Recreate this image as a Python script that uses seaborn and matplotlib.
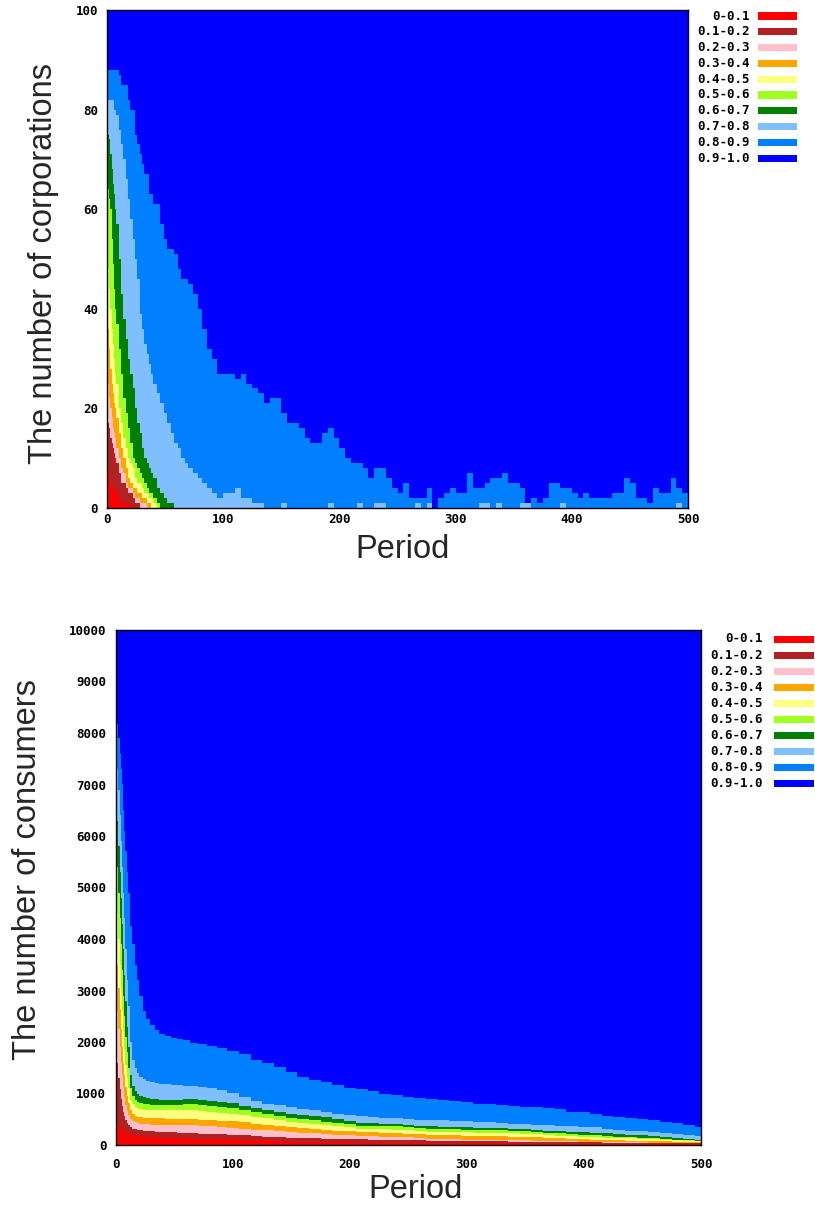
import numpy as np
import pandas as pd
import matplotlib
matplotlib.use("Agg")
import matplotlib.pyplot as plt
from matplotlib.patches import Rectangle
from matplotlib.font_manager import FontProperties
import seaborn as sns

W, H = 815, 1211

# ---------------- legend classes ----------------
class_labels = ["0-0.1", "0.1-0.2", "0.2-0.3", "0.3-0.4", "0.4-0.5",
                "0.5-0.6", "0.6-0.7", "0.7-0.8", "0.8-0.9", "0.9-1.0"]
class_colors = ["#ff0000", "#b22222", "#ffc0cb", "#ffa500", "#ffff80",
                "#a0ff20", "#008000", "#80bfff", "#0080ff", "#0000ff"]

# ---------------- top chart: corporations (cumulative counts up to each class) -------------
corp_total = 100
corp_xticks = [0, 100, 200, 300, 400, 500]
corp_yticks = [0, 20, 40, 60, 80, 100]

corp_period_early = [0, 1, 2, 3, 4, 5, 6, 7, 8, 10, 12, 14, 16, 18, 20, 22, 24, 26, 28, 30,
                     32, 34, 36, 38, 40, 43, 46, 49, 52, 55, 58, 61, 64, 67, 70, 74, 78, 82, 86, 90, 95]
corp_upto_01 = [7, 7, 7, 5, 4, 4, 4, 4, 3, 2, 1, 1, 1, 1, 0, 0, 0, 0, 0, 0,
                0, 0, 0, 0, 0, 0, 0, 0, 0, 0, 0, 0, 0, 0, 0, 0, 0, 0, 0, 0, 0]
corp_upto_02 = [22, 17, 16, 14, 13, 12, 11, 10, 9, 7, 5, 5, 4, 3, 3, 2, 1, 1, 0, 0,
                0, 0, 0, 0, 0, 0, 0, 0, 0, 0, 0, 0, 0, 0, 0, 0, 0, 0, 0, 0, 0]
corp_upto_03 = [34, 25, 22, 20, 18, 16, 15, 14, 12, 10, 8, 7, 5, 4, 4, 3, 2, 2, 1, 1,
                1, 0, 0, 0, 0, 0, 0, 0, 0, 0, 0, 0, 0, 0, 0, 0, 0, 0, 0, 0, 0]
corp_upto_04 = [42, 36, 32, 28, 25, 23, 21, 20, 18, 15, 12, 10, 8, 6, 5, 4, 4, 3, 3, 2,
                2, 1, 1, 0, 0, 0, 0, 0, 0, 0, 0, 0, 0, 0, 0, 0, 0, 0, 0, 0, 0]
corp_upto_05 = [54, 48, 44, 40, 36, 33, 30, 27, 25, 20, 17, 14, 12, 10, 9, 8, 6, 5, 5, 4,
                3, 3, 2, 2, 1, 0, 0, 0, 0, 0, 0, 0, 0, 0, 0, 0, 0, 0, 0, 0, 0]
corp_upto_06 = [66, 64, 62, 60, 54, 49, 44, 40, 37, 32, 27, 22, 19, 16, 13, 10, 9, 8, 7, 6,
                5, 4, 3, 3, 2, 1, 0, 0, 0, 0, 0, 0, 0, 0, 0, 0, 0, 0, 0, 0, 0]
corp_upto_07 = [75, 75, 74, 71, 68, 65, 63, 60, 57, 50, 43, 38, 34, 30, 27, 24, 20, 17, 15, 12,
                10, 9, 8, 7, 6, 4, 3, 2, 1, 1, 0, 0, 0, 0, 0, 0, 0, 0, 0, 0, 0]
corp_upto_08 = [81, 82, 82, 82, 82, 82, 80, 80, 79, 76, 73, 70, 66, 62, 58, 54, 50, 46, 39, 36,
                33, 31, 29, 27, 25, 23, 21, 19, 17, 15, 13, 12, 10, 9, 8, 7, 6, 5, 4, 3, 2]
corp_upto_09 = [87, 88, 88, 88, 88, 88, 88, 88, 88, 87, 85, 85, 85, 82, 80, 80, 75, 73, 71, 69,
                67, 67, 63, 63, 61, 61, 57, 54, 52, 52, 51, 48, 46, 46, 45, 43, 40, 36, 32, 30, 27]

corp_period_late = [100, 105, 110, 115, 120, 125, 130, 135, 140, 145,
                    150, 155, 160, 165, 170, 175, 180, 185, 190, 195,
                    200, 205, 210, 215, 220, 225, 230, 235, 240, 245,
                    250, 255, 260, 265, 270, 275, 280, 285, 290, 295,
                    300, 305, 310, 315, 320, 325, 330, 335, 340, 345,
                    350, 355, 360, 365, 370, 375, 380, 385, 390, 395,
                    400, 405, 410, 415, 420, 425, 430, 435, 440, 445,
                    450, 455, 460, 465, 470, 475, 480, 485, 490, 495, 500]
# classes 0-0.7 are empty in the late periods
corp_upto_07_late = [0, 0, 0, 0, 0, 0, 0, 0, 0, 0, 0, 0, 0, 0, 0, 0, 0, 0, 0, 0,
                     0, 0, 0, 0, 0, 0, 0, 0, 0, 0, 0, 0, 0, 0, 0, 0, 0, 0, 0, 0,
                     0, 0, 0, 0, 0, 0, 0, 0, 0, 0, 0, 0, 0, 0, 0, 0, 0, 0, 0, 0,
                     0, 0, 0, 0, 0, 0, 0, 0, 0, 0, 0, 0, 0, 0, 0, 0, 0, 0, 0, 0, 0]
corp_upto_08_late = [3, 3, 4, 2, 2, 1, 1, 0, 0, 0,
                     1, 0, 0, 0, 0, 0, 0, 0, 1, 0,
                     0, 0, 0, 1, 0, 0, 1, 1, 0, 0,
                     0, 0, 0, 1, 0, 1, 0, 0, 0, 0,
                     0, 0, 0, 0, 1, 1, 0, 1, 0, 0,
                     0, 1, 1, 0, 0, 0, 0, 0, 1, 0,
                     0, 0, 0, 0, 0, 0, 0, 0, 0, 0,
                     0, 0, 0, 0, 0, 0, 0, 0, 1, 0, 0]
corp_upto_09_late = [27, 27, 26, 27, 25, 24, 23, 21, 22, 22,
                     19, 17, 17, 16, 14, 13, 13, 15, 16, 14,
                     12, 10, 9, 9, 8, 6, 8, 8, 6, 4,
                     3, 5, 2, 2, 2, 4, 0, 2, 3, 4,
                     3, 3, 7, 4, 4, 5, 6, 6, 7, 5,
                     5, 4, 1, 2, 1, 2, 5, 5, 4, 4,
                     3, 2, 3, 2, 2, 2, 2, 3, 3, 6,
                     5, 2, 2, 1, 4, 3, 3, 6, 4, 3, 3]

# ---------------- bottom chart: consumers (cumulative counts up to each class) -------------
cons_total = 10000
cons_xticks = [0, 100, 200, 300, 400, 500]
cons_yticks = [0, 1000, 2000, 3000, 4000, 5000, 6000, 7000, 8000, 9000, 10000]

cons_period = [0, 1, 2, 3, 4, 5, 6, 7, 8, 9, 10, 12, 14, 16, 18, 20, 23, 26, 29, 33, 37,
               42, 47, 52, 57, 63, 70, 78, 86, 95,
               105, 115, 125, 135, 145, 155, 165, 175, 185, 195,
               205, 215, 225, 235, 245, 255, 265, 275, 285, 295,
               305, 315, 325, 335, 345, 355, 365, 375, 385, 395,
               405, 415, 425, 435, 445, 455, 465, 475, 485, 495, 500]
cons_upto_01 = [420, 400, 380, 345, 315, 290, 270, 252, 240, 230, 220, 205, 192, 182, 175, 168,
                162, 157, 152, 148, 144, 140, 136, 132, 128, 123, 118, 114, 111, 108,
                102, 95, 89, 80, 72, 66, 61, 58, 54, 50,
                46, 44, 42, 40, 39, 38, 37, 36, 35, 34,
                33, 32, 31, 30, 29, 28, 27, 26, 25, 24,
                23, 22, 21, 20, 19, 18, 17, 16, 15, 14, 14]
cons_upto_02 = [1950, 1600, 1300, 1080, 900, 760, 650, 560, 490, 430, 390, 345, 320, 305, 295, 288,
                280, 273, 266, 260, 255, 250, 245, 240, 233, 226, 220, 213, 206, 200,
                190, 175, 160, 152, 140, 134, 128, 124, 120, 115,
                110, 106, 102, 98, 94, 90, 86, 81, 78, 75,
                72, 70, 68, 66, 64, 61, 59, 57, 55, 52,
                50, 48, 46, 44, 42, 40, 38, 36, 34, 31, 30]
cons_upto_03 = [2980, 2600, 2250, 1900, 1600, 1350, 1120, 930, 780, 660, 580, 500, 460, 440, 425, 415,
                408, 402, 398, 395, 392, 390, 388, 386, 384, 382, 370, 360, 348, 336,
                320, 300, 285, 270, 255, 240, 225, 210, 198, 185,
                176, 170, 163, 158, 148, 136, 125, 114, 108, 103,
                99, 96, 94, 92, 88, 84, 80, 76, 71, 66,
                62, 59, 56, 53, 50, 47, 44, 41, 38, 35, 34]
cons_upto_04 = [3950, 3500, 3050, 2650, 2250, 1900, 1600, 1350, 1120, 950, 820, 680, 610, 570, 550, 535,
                525, 520, 518, 515, 515, 513, 512, 512, 512, 510, 495, 485, 475, 460,
                440, 415, 390, 365, 345, 325, 310, 295, 280, 265,
                252, 245, 240, 235, 222, 208, 200, 193, 188, 183,
                178, 174, 170, 165, 158, 148, 138, 130, 120, 112,
                105, 98, 92, 86, 80, 74, 68, 62, 56, 50, 48]
cons_upto_05 = [5000, 4500, 4000, 3500, 3000, 2600, 2200, 1850, 1550, 1300, 1100, 880, 790, 740, 710, 695,
                685, 680, 678, 675, 675, 675, 675, 678, 680, 680, 660, 645, 630, 610,
                580, 545, 515, 480, 455, 430, 410, 390, 365, 340,
                320, 310, 305, 300, 285, 272, 262, 255, 250, 245,
                240, 237, 232, 225, 218, 205, 190, 180, 170, 162,
                155, 145, 138, 130, 120, 110, 100, 90, 80, 70, 68]
cons_upto_06 = [5980, 5400, 4900, 4400, 3900, 3400, 2900, 2500, 2100, 1800, 1500, 1100, 960, 880, 840, 810,
                800, 790, 785, 780, 780, 780, 780, 785, 790, 790, 770, 750, 735, 715,
                680, 640, 600, 560, 525, 500, 480, 455, 430, 400,
                375, 370, 368, 360, 345, 330, 318, 310, 302, 298,
                293, 290, 285, 278, 270, 255, 235, 225, 210, 195,
                185, 175, 165, 155, 145, 135, 120, 105, 90, 80, 78]
cons_upto_07 = [6970, 6300, 5800, 5300, 4800, 4300, 3800, 3300, 2800, 2300, 1900, 1350, 1150, 1050, 1000, 950,
                930, 910, 895, 885, 880, 875, 875, 880, 890, 895, 880, 860, 840, 810,
                760, 715, 680, 640, 605, 580, 560, 535, 500, 460,
                430, 420, 415, 410, 385, 370, 360, 355, 345, 340,
                335, 330, 325, 318, 310, 300, 280, 265, 255, 245,
                235, 225, 215, 200, 190, 175, 155, 135, 115, 100, 95]
cons_upto_08 = [7920, 7300, 6900, 6400, 5900, 5400, 4900, 4400, 3800, 3200, 2700, 2000, 1650, 1500, 1400, 1330,
                1290, 1250, 1220, 1200, 1185, 1175, 1165, 1160, 1155, 1150, 1130, 1100, 1060, 1010,
                930, 860, 800, 770, 735, 700, 675, 640, 610, 590,
                560, 540, 530, 515, 505, 495, 490, 485, 475, 465,
                450, 440, 430, 415, 400, 390, 380, 370, 360, 350,
                340, 320, 300, 280, 270, 260, 240, 220, 200, 180, 170]
cons_upto_09 = [8980, 8170, 7900, 7600, 7300, 7000, 6500, 6100, 5700, 5300, 4900, 4250, 3900, 3500, 3200, 2900,
                2600, 2450, 2330, 2230, 2160, 2110, 2080, 2060, 2030, 1990, 1960, 1920, 1890, 1830,
                1760, 1660, 1600, 1520, 1420, 1330, 1270, 1220, 1160, 1110,
                1080, 1040, 990, 965, 940, 915, 890, 870, 850, 830,
                805, 790, 775, 760, 745, 730, 710, 690, 650, 640,
                610, 570, 545, 520, 500, 480, 450, 420, 390, 350, 340]

# ---------------- assemble tables ----------------
corp_df = pd.DataFrame({
    "period": corp_period_early + corp_period_late,
    "c1": corp_upto_01 + corp_upto_07_late,
    "c2": corp_upto_02 + corp_upto_07_late,
    "c3": corp_upto_03 + corp_upto_07_late,
    "c4": corp_upto_04 + corp_upto_07_late,
    "c5": corp_upto_05 + corp_upto_07_late,
    "c6": corp_upto_06 + corp_upto_07_late,
    "c7": corp_upto_07 + corp_upto_07_late,
    "c8": corp_upto_08 + corp_upto_08_late,
    "c9": corp_upto_09 + corp_upto_09_late,
})
cons_df = pd.DataFrame({
    "period": cons_period,
    "c1": cons_upto_01, "c2": cons_upto_02, "c3": cons_upto_03,
    "c4": cons_upto_04, "c5": cons_upto_05, "c6": cons_upto_06,
    "c7": cons_upto_07, "c8": cons_upto_08, "c9": cons_upto_09,
})

# ---------------- style ----------------
sns.set_theme(style="white")
plt.rcParams['font.family'] = ['DejaVu Sans']
palette = sns.color_palette(class_colors)

tick_fp = FontProperties(family="DejaVu Sans Mono", weight="bold", size=9)
label_fp = FontProperties(family="Liberation Sans", size=23.5)

fig = plt.figure(figsize=(W / 100, H / 100), dpi=100)
fig.patch.set_facecolor("white")


def px_box(x0, y0, x1, y1):
    return [x0 / W, 1 - y1 / H, (x1 - x0) / W, (y1 - y0) / H]


def stacked(ax, df, total):
    period = df["period"].to_numpy(float)
    lower = np.zeros(len(period))
    tops = [df[f"c{k}"].to_numpy(float) for k in range(1, 10)] + [np.full(len(period), float(total))]
    for upper, col in zip(tops, palette):
        ax.fill_between(period, lower, upper, step="post", color=col,
                        linewidth=0, antialiased=False, zorder=1)
        lower = upper


def style_axes(ax, xticks, yticks, xpad, ypad):
    ax.set_xlim(xticks[0], xticks[-1])
    ax.set_ylim(yticks[0], yticks[-1])
    ax.set_xticks(xticks)
    ax.set_yticks(yticks)
    ax.set_xticklabels([str(v) for v in xticks])
    ax.set_yticklabels([str(v) for v in yticks])
    ax.tick_params(axis="x", length=0, pad=xpad)
    ax.tick_params(axis="y", length=0, pad=ypad)
    for lbl in ax.get_xticklabels() + ax.get_yticklabels():
        lbl.set_fontproperties(tick_fp)
        lbl.set_color("black")
    for s in ax.spines.values():
        s.set_visible(True)
        s.set_color("black")
        s.set_linewidth(1.0)
        s.set_zorder(3)
    ax.grid(False)


def legend(x_text_right, x_sw0, x_sw1, y0, dy):
    for i, (lab, col) in enumerate(zip(class_labels, palette)):
        y = y0 + i * dy
        fig.text(x_text_right / W, 1 - y / H, lab, ha="right", va="center",
                 fontproperties=tick_fp, color="black")
        fig.add_artist(Rectangle((x_sw0 / W, 1 - (y + 3.5) / H), (x_sw1 - x_sw0) / W, 7 / H,
                                 transform=fig.transFigure, facecolor=col, edgecolor="none"))


# top chart
ax1 = fig.add_axes(px_box(107, 10, 688, 508))
stacked(ax1, corp_df, corp_total)
style_axes(ax1, corp_xticks, corp_yticks, xpad=3.6, ypad=6.5)
legend(750, 758, 797, 16, 15.8)
fig.text(44 / W, 1 - 264 / H, "The number of corporations", rotation=90,
         ha="center", va="center", fontproperties=label_fp)
fig.text(403 / W, 1 - 550 / H, "Period", ha="center", va="center", fontproperties=label_fp)

# bottom chart
ax2 = fig.add_axes(px_box(116, 630, 701, 1145))
stacked(ax2, cons_df, cons_total)
style_axes(ax2, cons_xticks, cons_yticks, xpad=9.0, ypad=7.0)
legend(763, 774, 814, 639, 16.1)
fig.text(28 / W, 1 - 870 / H, "The number of consumers", rotation=90,
         ha="center", va="center", fontproperties=label_fp)
fig.text(416 / W, 1 - 1190 / H, "Period", ha="center", va="center", fontproperties=label_fp)

fig.savefig("out.png", dpi=100, facecolor="white")
